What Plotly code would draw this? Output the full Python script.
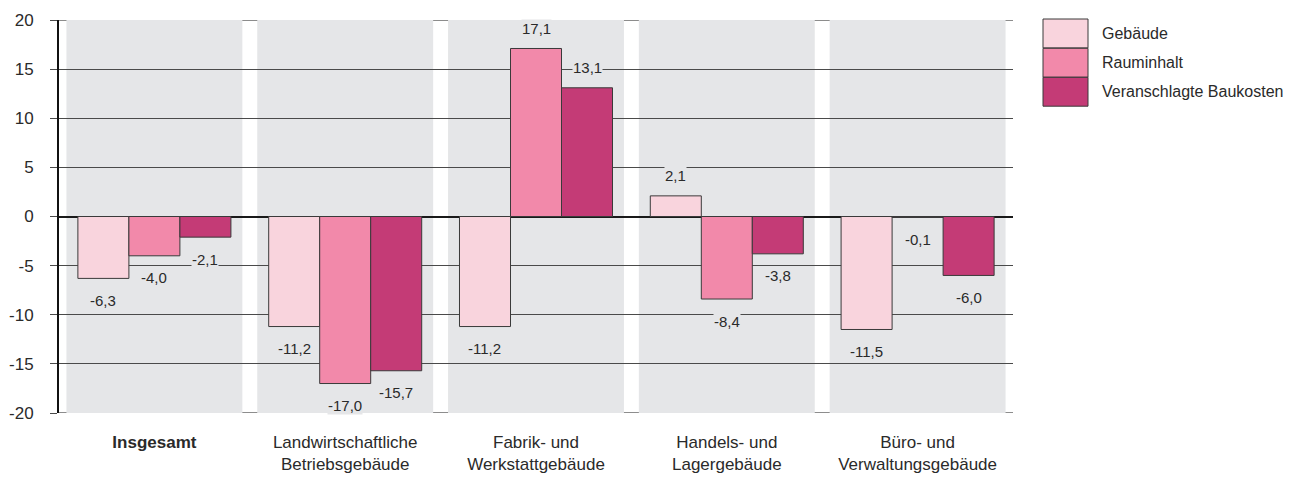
import plotly.graph_objects as go

categories = ["<b>Insgesamt</b>", "Landwirtschaftliche<br>Betriebsgebäude", "Fabrik- und<br>Werkstattgebäude",
              "Handels- und<br>Lagergebäude", "Büro- und<br>Verwaltungsgebäude"]
series_names = ["Gebäude", "Rauminhalt", "Veranschlagte Baukosten"]
gebaeude = [-6.3, -11.2, -11.2, 2.1, -11.5]
rauminhalt = [-4.0, -17.0, 17.1, -8.4, -0.1]
baukosten = [-2.1, -15.7, 13.1, -3.8, -6.0]
series_values = [gebaeude, rauminhalt, baukosten]
y_ticks = [-20, -15, -10, -5, 0, 5, 10, 15, 20]
y_tick_labels = ["-20", "-15", "-10", "-5", "0", "5", "10", "15", "20"]

colors = ["#f9d4dd", "#f289aa", "#c43b76"]
band_color = "#e5e6e8"
font_family = "Liberation Sans, Arial, sans-serif"
bargap = 0.198

fig = go.Figure()
x_idx = list(range(len(categories)))
for name, vals, col in zip(series_names, series_values, colors):
    fig.add_trace(go.Bar(
        x=x_idx, y=vals, name=name, marker=dict(color=col, line=dict(color="#3a3a3a", width=1)),
        showlegend=False, hoverinfo="skip"))

shapes = []
for i in x_idx:
    shapes.append(dict(type="rect", xref="x", yref="y", x0=i - 0.461, x1=i + 0.461, y0=-20, y1=20,
                       fillcolor=band_color, line=dict(width=0), layer="below"))
for yv in (y_ticks[0], y_ticks[-1]):
    shapes.append(dict(type="line", xref="paper", yref="y", x0=0, x1=1, y0=yv, y1=yv,
                       line=dict(color="#1a1a1a", width=1), layer="between"))

annotations = []
w = (1 - bargap) / 3
for j, vals in enumerate(series_values):
    for i, v in enumerate(vals):
        txt = f"{v:.1f}".replace(".", ",")
        annotations.append(dict(x=i + (j - 1) * w, y=v, xref="x", yref="y", text=txt, showarrow=False,
                                yshift=-22 if v < 0 else 20, yanchor="middle", xanchor="center",
                                font=dict(family=font_family, size=15, color="#2a2a2a"),
                                bgcolor=band_color, borderpad=0))

L, R, T, B = 59, 1013, 20, 413
def px_x(p):
    return (p - L) / (R - L)
def px_y(p):
    return (B - p) / (B - T)
patch_top = [19, 48.3, 77.3]
patch_h = 28.9
for k, (name, col) in enumerate(zip(series_names, colors)):
    y0 = patch_top[k]
    shapes.append(dict(type="rect", xref="paper", yref="paper", x0=px_x(1043), x1=px_x(1088),
                       y0=px_y(y0 + patch_h), y1=px_y(y0), fillcolor=col,
                       line=dict(color="#3a3a3a", width=1)))
    annotations.append(dict(x=px_x(1100), y=px_y(y0 + patch_h / 2), xref="paper", yref="paper",
                            text=name, showarrow=False, xanchor="left", yanchor="middle",
                            font=dict(family=font_family, size=16, color="#2a2a2a")))

fig.update_layout(
    width=1308, height=477,
    margin=dict(l=L, r=1308 - R, t=T, b=477 - B, pad=0, autoexpand=False),
    paper_bgcolor="white", plot_bgcolor="white",
    barmode="group", bargap=bargap, bargroupgap=0,
    shapes=shapes, annotations=annotations,
    font=dict(family=font_family, size=17, color="#2a2a2a"),
    xaxis=dict(range=[-0.5, 4.5], tickvals=x_idx, ticktext=categories, showgrid=False,
               zeroline=False, showline=False, ticks="", ticklabelstandoff=17,
               tickfont=dict(size=17), automargin=False),
    yaxis=dict(range=[-20, 20], tickvals=y_ticks, ticktext=y_tick_labels, showgrid=True,
               gridcolor="#4a4a4a", gridwidth=1,
               zeroline=True, zerolinecolor="#1a1a1a", zerolinewidth=1.5,
               showline=True, linecolor="#111111", linewidth=2,
               ticks="outside", ticklen=7, tickcolor="#4a4a4a", tickwidth=1,
               ticklabelstandoff=13, tickfont=dict(size=17), automargin=False),
)

fig.write_html("out.html", config={"displayModeBar": False},
               post_script="document.body.style.margin='0px';document.body.style.overflow='hidden';")
